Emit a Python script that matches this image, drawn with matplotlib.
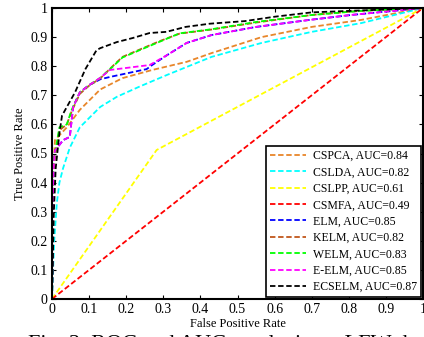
# ROC curves, LFW
import matplotlib
matplotlib.use('Agg')
import matplotlib.pyplot as plt

plt.rcParams['font.family'] = 'Liberation Serif'

labels = ['CSPCA, AUC=0.84', 'CSLDA, AUC=0.82', 'CSLPP, AUC=0.61', 'CSMFA, AUC=0.49',
          'ELM, AUC=0.85', 'KELM, AUC=0.82', 'WELM, AUC=0.83', 'E-ELM, AUC=0.85',
          'ECSELM, AUC=0.87']
colors = ['#e8862a', '#00ffff', '#ffff00', '#ff0000', '#0000ff', '#c0561a',
          '#00ff00', '#ff00ff', '#000000']

fpr_cspca = [0, 0.004, 0.008, 0.04, 0.075, 0.13, 0.19, 0.27, 0.363, 0.43, 0.565, 0.7, 0.833, 1]
tpr_cspca = [0, 0.45, 0.546, 0.59, 0.65, 0.72, 0.759, 0.787, 0.815, 0.845, 0.9, 0.935, 0.959, 1]

fpr_cslda = [0, 0.006, 0.013, 0.02, 0.03, 0.048, 0.075, 0.13, 0.175, 0.236, 0.31, 0.43, 0.565, 0.7, 0.833, 1]
tpr_cslda = [0, 0.2, 0.33, 0.4, 0.45, 0.52, 0.59, 0.66, 0.695, 0.73, 0.77, 0.832, 0.88, 0.918, 0.948, 1]

fpr_cslpp = [0, 0.282, 1]
tpr_cslpp = [0, 0.512, 1]

fpr_csmfa = [0, 1]
tpr_csmfa = [0, 1]

fpr_elm = [0, 0.004, 0.008, 0.03, 0.048, 0.057, 0.075, 0.1, 0.13, 0.156, 0.255, 0.27, 0.31, 0.363, 0.43, 0.55, 0.7, 0.806, 1]
tpr_elm = [0, 0.45, 0.51, 0.546, 0.557, 0.66, 0.71, 0.735, 0.755, 0.763, 0.79, 0.804, 0.838, 0.88, 0.907, 0.935, 0.96, 0.976, 1]

fpr_kelm = [0, 0.003, 0.008, 0.02, 0.04, 0.053, 0.075, 0.1, 0.13, 0.165, 0.19, 0.236, 0.29, 0.344, 0.43, 0.55, 0.7, 0.83, 1]
tpr_kelm = [0, 0.44, 0.49, 0.58, 0.6, 0.645, 0.705, 0.733, 0.758, 0.802, 0.832, 0.857, 0.886, 0.912, 0.926, 0.95, 0.976, 0.99, 1]

fpr_welm = [0, 0.003, 0.008, 0.02, 0.04, 0.053, 0.075, 0.1, 0.13, 0.165, 0.19, 0.236, 0.29, 0.344, 0.43, 0.55, 0.7, 0.83, 1]
tpr_welm = [0, 0.46, 0.5, 0.59, 0.6, 0.65, 0.71, 0.735, 0.76, 0.8, 0.83, 0.855, 0.884, 0.913, 0.927, 0.952, 0.976, 0.99, 1]

fpr_eelm = [0, 0.004, 0.008, 0.03, 0.048, 0.057, 0.075, 0.1, 0.13, 0.156, 0.263, 0.31, 0.363, 0.43, 0.55, 0.7, 0.806, 1]
tpr_eelm = [0, 0.45, 0.51, 0.546, 0.557, 0.66, 0.71, 0.735, 0.76, 0.787, 0.804, 0.838, 0.88, 0.907, 0.935, 0.96, 0.976, 1]

fpr_ecselm = [0, 0.005, 0.01, 0.02, 0.027, 0.04, 0.062, 0.09, 0.12, 0.13, 0.175, 0.218, 0.263, 0.308, 0.36, 0.425, 0.52, 0.6, 0.7, 0.8, 0.9, 1]
tpr_ecselm = [0, 0.3, 0.45, 0.57, 0.63, 0.66, 0.71, 0.79, 0.855, 0.862, 0.883, 0.897, 0.914, 0.918, 0.935, 0.946, 0.955, 0.97, 0.985, 0.99, 0.995, 1]

curves = [(fpr_cspca, tpr_cspca), (fpr_cslda, tpr_cslda), (fpr_cslpp, tpr_cslpp),
          (fpr_csmfa, tpr_csmfa), (fpr_elm, tpr_elm), (fpr_kelm, tpr_kelm),
          (fpr_welm, tpr_welm), (fpr_eelm, tpr_eelm), (fpr_ecselm, tpr_ecselm)]

fig = plt.figure(figsize=(4.24, 3.37), dpi=100)
ax = fig.add_axes([52 / 424, 38 / 337, 371 / 424, 291 / 337])

for (x, y), c, lab in zip(curves, colors, labels):
    ax.plot(x, y, '--', color=c, lw=1.3, dashes=(3, 1.5), label=lab)

ticks = [i / 10 for i in range(11)]
ticklabels = ['0', '0.1', '0.2', '0.3', '0.4', '0.5', '0.6', '0.7', '0.8', '0.9', '1']
ax.set_xlim(0, 1)
ax.set_ylim(0, 1)
ax.set_xticks(ticks)
ax.set_yticks(ticks)
ax.set_xticklabels(ticklabels)
ax.set_yticklabels(ticklabels)
ax.tick_params(direction='in', top=True, right=True, labelsize=10, length=3, pad=3)
for s in ax.spines.values():
    s.set_linewidth(1.5)
ax.set_xlabel('False Positive Rate', fontsize=9, labelpad=1)
ax.set_ylabel('True Positive Rate', fontsize=9, labelpad=3)

leg = ax.legend(loc='lower right', fontsize=8.5, frameon=True, fancybox=False,
                edgecolor='black', framealpha=1, borderaxespad=0.15,
                handlelength=3, labelspacing=0.37, handletextpad=0.6,
                borderpad=0.35)
leg.get_frame().set_linewidth(1.2)

fig.text(28 / 424, -12 / 337, 'Fig. 3. ROC and AUC results in an LFW dataset',
         fontsize=16, va='baseline', ha='left')

fig.savefig('out.png', dpi=100)
